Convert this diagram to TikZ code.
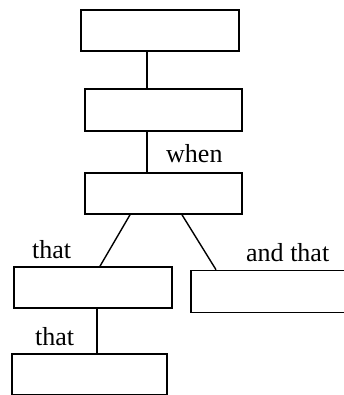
\documentclass[tikz,border=0pt]{standalone}
\usepackage{fontspec}
\setmainfont{Liberation Serif}
\begin{document}
\begin{tikzpicture}[x=1pt,y=-1pt,
  box/.style={draw=black, line width=1.6pt, rectangle, inner sep=0pt},
  conn/.style={draw=black, line width=1.4pt},
  lbl/.style={inner sep=0pt, anchor=base west, font=\fontsize{26}{29}\selectfont}]
\useasboundingbox (0,0) rectangle (343,395);
\node[box, minimum width=158pt, minimum height=41pt] (b1) at (160,30.5) {};
\node[box, minimum width=157pt, minimum height=42pt] (b2) at (163.5,110) {};
\node[box, minimum width=157pt, minimum height=41pt] (b3) at (163.5,193.5) {};
\node[box, minimum width=158pt, minimum height=41pt] (b4) at (93,287.5) {};
\node[box, minimum width=160pt, minimum height=42pt] (b5) at (271,291.5) {};
\node[box, minimum width=155pt, minimum height=41pt] (b6) at (89.5,374.5) {};
\draw[conn] ([xshift=-13pt]b1.south) -- ([xshift=-16.5pt]b2.north);
\draw[conn] ([xshift=-16.5pt]b2.south) -- ([xshift=-16.5pt]b3.north);
\draw[conn] ([xshift=-33.5pt]b3.south) -- ([xshift=7pt]b4.north);
\draw[conn] ([xshift=18.5pt]b3.south) -- ([xshift=-55pt]b5.north);
\draw[conn] ([xshift=4pt]b4.south) -- ([xshift=7.5pt]b6.north);
\node[lbl] (lwhen) at (166,163) {when};
\node[lbl] (lthat1) at (32,258) {that};
\node[lbl] (landthat) at (246,261) {and that};
\node[lbl] (lthat2) at (35,345) {that};
\end{tikzpicture}
\end{document}
